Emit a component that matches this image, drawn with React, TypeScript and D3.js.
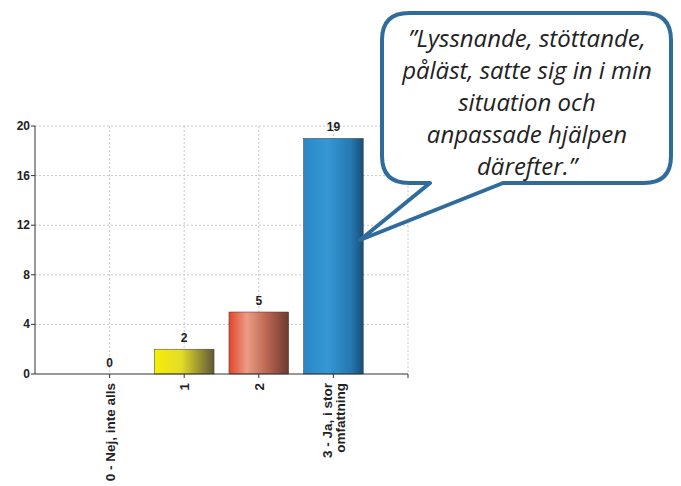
import React from "react";
import * as d3 from "d3";

// Survey answers: category labels (may be multi-line) and response counts
const categories: string[] = ["0 - Nej, inte alls", "1", "2", "3 - Ja, i stor omfattning"];
const labelLines: string[][] = [["0 - Nej, inte alls"], ["1"], ["2"], ["3 - Ja, i stor", "omfattning"]];
const counts: number[] = [0, 2, 5, 19];
const yTicks: number[] = [0, 4, 8, 12, 16, 20];
const quoteLines: string[] = [
  "\u201DLyssnande, stöttande,",
  "påläst, satte sig in i min",
  "situation och",
  "anpassade hjälpen",
  "därefter.\u201D",
];

const W = 681;
const H = 486;
const plot = { left: 35, right: 408, top: 126, bottom: 374 };

const gradients = [
  { id: "g0", stops: [["0%", "#f2ea10"], ["100%", "#6b6545"]] },
  { id: "g1", stops: [["0%", "#f6ee04"], ["45%", "#e4dc28"], ["100%", "#5f5838"]] },
  { id: "g2", stops: [["0%", "#e2452a"], ["30%", "#eb9c84"], ["65%", "#b86450"], ["100%", "#6c3a30"]] },
  { id: "g3", stops: [["0%", "#2a86c4"], ["40%", "#3598d5"], ["80%", "#2478b0"], ["100%", "#1a4d75"]] },
];

const axisFont = "'Liberation Sans', Arial, sans-serif";

export default function App() {
  const x = d3.scalePoint<string>().domain(categories).range([plot.left, plot.right]).padding(1);
  const y = d3.scaleLinear().domain([0, 20]).range([plot.bottom, plot.top]);
  const step = x.step();
  const barW = step * 0.8;

  // Speech bubble geometry
  const bx0 = 382, bx1 = 671, by0 = 13, by1 = 183, r = 27;
  const tip = [360, 240];
  const tailA = 503, tailB = 430;
  const bubble = [
    `M${bx0 + r},${by0}`,
    `L${bx1 - r},${by0}`,
    `Q${bx1},${by0} ${bx1},${by0 + r}`,
    `L${bx1},${by1 - r}`,
    `Q${bx1},${by1} ${bx1 - r},${by1}`,
    `L${tailA},${by1}`,
    `L${tip[0]},${tip[1]}`,
    `L${tailB},${by1}`,
    `L${bx0 + r},${by1}`,
    `Q${bx0},${by1} ${bx0},${by1 - r}`,
    `L${bx0},${by0 + r}`,
    `Q${bx0},${by0} ${bx0 + r},${by0}`,
    "Z",
  ].join(" ");

  const gridX = [...categories.map((c) => x(c) as number), plot.right];

  return (
    <div style={{ position: "fixed", left: 0, top: 0, background: "#fff" }}>
      <svg width={W} height={H} viewBox={`0 0 ${W} ${H}`} style={{ display: "block" }}>
        <defs>
          {gradients.map((g) => (
            <linearGradient key={g.id} id={g.id} x1="0" y1="0" x2="1" y2="0">
              {g.stops.map(([o, c]) => (
                <stop key={o} offset={o} stopColor={c} />
              ))}
            </linearGradient>
          ))}
        </defs>
        <rect width={W} height={H} fill="#fff" />

        {/* grid */}
        <g stroke="#c8c8c8" strokeWidth={1} strokeDasharray="2,2">
          {yTicks.filter((t) => t > 0).map((t) => (
            <line key={t} x1={plot.left} x2={plot.right} y1={y(t)} y2={y(t)} />
          ))}
          {gridX.map((gx, i) => (
            <line key={i} x1={gx} x2={gx} y1={plot.top} y2={plot.bottom} />
          ))}
        </g>

        {/* bars */}
        {categories.map((c, i) => {
          const cx = x(c) as number;
          const v = counts[i];
          return (
            <g key={c}>
              {v > 0 && (
                <rect
                  x={cx - barW / 2}
                  y={y(v)}
                  width={barW}
                  height={y(0) - y(v)}
                  fill={`url(#g${i})`}
                  stroke="#3a3a3a"
                  strokeWidth={0.5}
                />
              )}
              <text
                x={cx}
                y={y(v) - 7}
                textAnchor="middle"
                fontFamily={axisFont}
                fontWeight="bold"
                fontSize={12}
                fill="#222"
              >
                {v}
              </text>
            </g>
          );
        })}

        {/* axes */}
        <g stroke="#333" strokeWidth={1}>
          <line x1={plot.left} x2={plot.left} y1={plot.top} y2={plot.bottom} />
          <line x1={plot.left} x2={plot.right} y1={plot.bottom} y2={plot.bottom} />
          {yTicks.map((t) => (
            <line key={t} x1={plot.left - 4} x2={plot.left} y1={y(t)} y2={y(t)} />
          ))}
          {gridX.map((gx, i) => (
            <line key={i} x1={gx} x2={gx} y1={plot.bottom} y2={plot.bottom + 4} />
          ))}
        </g>
        {yTicks.map((t) => (
          <text
            key={t}
            x={plot.left - 5}
            y={y(t) + 4}
            textAnchor="end"
            fontFamily={axisFont}
            fontWeight="bold"
            fontSize={12}
            fill="#222"
          >
            {t}
          </text>
        ))}
        {categories.map((c, i) => {
          const cx = x(c) as number;
          const lines = labelLines[i];
          const lh = 12.5;
          const off = ((lines.length - 1) * lh) / 2;
          return (
            <text
              key={c}
              transform={`translate(${cx},${plot.bottom + 9}) rotate(-90)`}
              textAnchor="end"
              fontFamily={axisFont}
              fontWeight="bold"
              fontSize={13.5}
              fill="#222"
            >
              {lines.map((l, j) => (
                <tspan key={j} x={0} y={5 - off + j * lh}>
                  {l}
                </tspan>
              ))}
            </text>
          );
        })}

        {/* speech bubble */}
        <path d={bubble} fill="#fff" stroke="#2f6c9c" strokeWidth={4} strokeLinejoin="round" />
        {quoteLines.map((l, i) => (
          <text
            key={i}
            x={527}
            y={47 + i * 32}
            textAnchor="middle"
            fontFamily="'Open Sans', Lato, sans-serif"
            fontStyle="italic"
            fontSize={24}
            fill="#222"
          >
            {l}
          </text>
        ))}
      </svg>
    </div>
  );
}
